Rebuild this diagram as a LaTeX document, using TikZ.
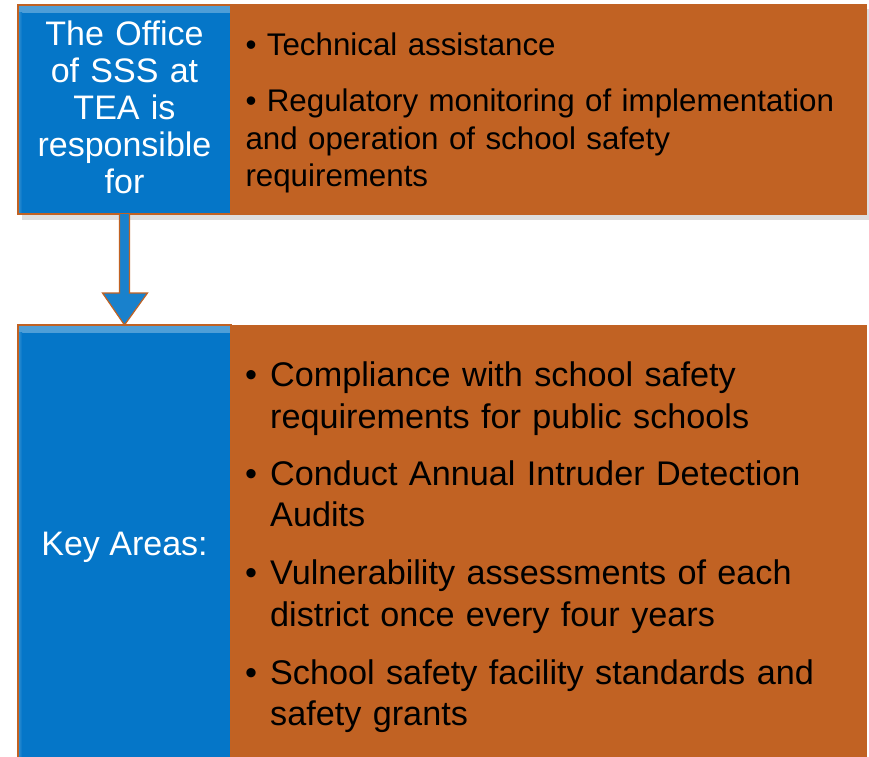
\documentclass[tikz,border=0pt]{standalone}
\usepackage{fontspec}
\setmainfont{Liberation Sans}
\usetikzlibrary{calc}
\definecolor{boxblue}{RGB}{5,118,200}
\definecolor{boxorange}{RGB}{193,98,35}
\definecolor{shadowgray}{RGB}{200,200,200}
\tikzset{
  orangebox/.style={rectangle, fill=boxorange, inner sep=0pt, outer sep=0pt},
  bluebox/.style={rectangle, fill=boxblue, draw=boxorange, line width=1.2pt, inner sep=0pt, outer sep=0pt,
    path picture={\shade[top color=boxblue!70!white, bottom color=boxblue]
      (path picture bounding box.north west) rectangle ([yshift=-7pt]path picture bounding box.north east);
      \shade[left color=boxblue!80!white, right color=boxblue]
      ([yshift=-7pt]path picture bounding box.north west) rectangle ([xshift=4pt]path picture bounding box.south west);}},
  whitetext/.style={text=white, inner sep=0pt, font=\fontsize{34}{37.2}\selectfont},
  toptext/.style={text=black, inner sep=0pt, anchor=base west, text width=618pt, align=left,
    font=\fontsize{31.3}{37.5}\selectfont},
  keytext/.style={text=black, inner sep=0pt, anchor=base west, text width=618pt, align=left,
    font=\fontsize{34.2}{41.5}\selectfont},
  arrowbody/.style={fill=boxblue!92!white, draw=boxorange, line width=1.2pt, line join=miter}
}
\newcommand{\bul}{\makebox[25pt][l]{•}}
\newcommand{\cont}{\hspace*{25pt}}
\begin{document}
\begin{tikzpicture}[x=1pt,y=-1pt]
\useasboundingbox (0,0) rectangle (869,756);
\clip (0,0) rectangle (869,756);
% shadows
\fill[shadowgray!60] (22,9) rectangle (872,220);
\fill[shadowgray!60] (871,329) rectangle (873,760);
% top row
\node[orangebox, minimum width=637pt, minimum height=211pt] (topinfo) at (548.5,109.5) {};
\node[bluebox, minimum width=213pt, minimum height=209pt] (topblue) at (124.5,109.5) {};
% bottom row
\node[orangebox, minimum width=636pt, minimum height=437pt] (keyinfo) at (549,543.5) {};
\node[bluebox, minimum width=213pt, minimum height=437pt] (keyblue) at (124.5,543.5) {};
% arrow
\filldraw[arrowbody] ([xshift=-5pt]topblue.south)
  -- ([xshift=-5pt,yshift=-79pt]topblue.south)
  -- ([xshift=-22pt,yshift=-79pt]topblue.south)
  -- (keyblue.north)
  -- ([xshift=23pt,yshift=-79pt]topblue.south)
  -- ([xshift=5pt,yshift=-79pt]topblue.south)
  -- ([xshift=5pt]topblue.south);
% texts
\node[whitetext, anchor=base, text width=213pt, align=center] (toplabel) at (124.5,45)
  {The Office\\of SSS at\\TEA is\\responsible\\for};
\node[toptext] (toplist) at (245.3,55)
  {• Technical assistance\\[19pt]• Regulatory monitoring of implementation\\and operation of school safety\\requirements};
\node[whitetext, anchor=base] (keylabel) at (124.5,555) {Key Areas:};
\node[keytext] (keylist) at (245,386.7)
  {\bul Compliance with school safety\\\cont requirements for public schools\\[15.5pt]%
   \bul Conduct Annual Intruder Detection\\\cont Audits\\[16.5pt]%
   \bul Vulnerability assessments of each\\\cont district once every four years\\[16.5pt]%
   \bul School safety facility standards and\\\cont safety grants};
\end{tikzpicture}
\end{document}
